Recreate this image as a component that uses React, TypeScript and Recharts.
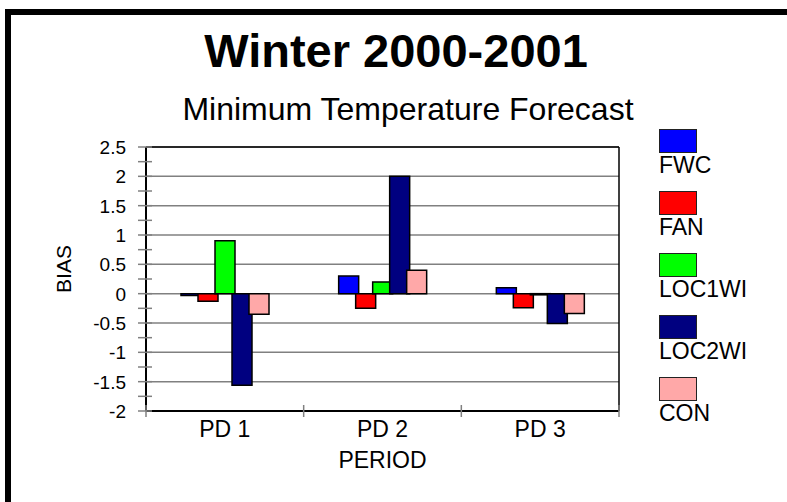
import React from 'react'
import { Bar, BarChart, CartesianGrid, Label, XAxis, YAxis } from 'recharts'

const periods = ['PD 1', 'PD 2', 'PD 3']
const fwc = [-0.03, 0.3, 0.1]
const fan = [-0.13, -0.25, -0.24]
const loc1wi = [0.9, 0.2, -0.02]
const loc2wi = [-1.56, 2.0, -0.51]
const con = [-0.35, 0.4, -0.34]

const majorTicks = [-2, -1.5, -1, -0.5, 0, 0.5, 1, 1.5, 2, 2.5]
const minorTicks = [-1.75, -1.25, -0.75, -0.25, 0.25, 0.75, 1.25, 1.75, 2.25]

const series = [
  { key: 'FWC', color: '#0000ff' },
  { key: 'FAN', color: '#ff0000' },
  { key: 'LOC1WI', color: '#00ff00' },
  { key: 'LOC2WI', color: '#000080' },
  { key: 'CON', color: '#ffa8a8' },
]

const data = periods.map((p, i) => ({
  period: p,
  FWC: fwc[i],
  FAN: fan[i],
  LOC1WI: loc1wi[i],
  LOC2WI: loc2wi[i],
  CON: con[i],
}))

const allTicks = [...majorTicks, ...minorTicks].sort((a, b) => a - b)

const font = '"Liberation Sans", Arial, sans-serif'
const W = 787
const H = 502
const plotLeft = 146
const plotRight = 619
const plotTop = 147
const plotBottom = 411
const band = (plotRight - plotLeft) / periods.length

function YTick({ x, y, payload }: any) {
  const major = majorTicks.includes(payload.value)
  return (
    <g>
      <line x1={x - 8} x2={x + 6} y1={y} y2={y} stroke="#808080" strokeWidth={1.5} />
      {major && (
        <text x={x - 20} y={y} dy={7} textAnchor="end" fontSize={19} fontFamily={font} fill="#000">
          {payload.value}
        </text>
      )}
    </g>
  )
}

function XTick({ x, y, payload, index }: any) {
  const last = index === periods.length - 1
  return (
    <g>
      <line x1={x - band / 2} x2={x - band / 2} y1={y - 6} y2={y + 6} stroke="#808080" strokeWidth={1.5} />
      {last && <line x1={x + band / 2} x2={x + band / 2} y1={y - 6} y2={y + 6} stroke="#808080" strokeWidth={1.5} />}
      <text x={x} y={y + 26} textAnchor="middle" fontSize={23} fontFamily={font} fill="#000">
        {payload.value}
      </text>
    </g>
  )
}

export default function App() {
  return (
    <div style={{ position: 'absolute', left: 0, top: 0, width: W, height: H, overflow: 'hidden', background: '#fff' }}>
      <div
        style={{
          position: 'absolute',
          left: 5,
          top: 9,
          width: 900,
          height: 700,
          border: '6px solid #000',
          boxSizing: 'border-box',
        }}
      />
      <div
        style={{
          position: 'absolute',
          left: 396 - 300,
          width: 600,
          top: 27,
          textAlign: 'center',
          fontFamily: font,
          fontWeight: 'bold',
          fontSize: 47,
          lineHeight: '47px',
        }}
      >
        Winter 2000-2001
      </div>
      <div
        style={{
          position: 'absolute',
          left: 408 - 300,
          width: 600,
          top: 93,
          textAlign: 'center',
          fontFamily: font,
          fontSize: 32,
          lineHeight: '32px',
        }}
      >
        Minimum Temperature Forecast
      </div>
      <div style={{ position: 'absolute', left: 659, top: 129, fontFamily: font }}>
        {series.map((s) => (
          <div key={s.key} style={{ height: 62 }}>
            <div style={{ width: 36, height: 22, background: s.color, border: '1.5px solid #222' }} />
            <div style={{ fontSize: 23, lineHeight: '23px', marginTop: 1, color: '#000' }}>{s.key}</div>
          </div>
        ))}
      </div>
      <div style={{ position: 'absolute', left: 0, top: 0 }}>
        <BarChart
          width={W}
          height={H}
          data={data}
          barSize={20}
          barGap={-3}
          margin={{ top: plotTop - 1, right: W - plotRight - 1, bottom: H - plotBottom - 60, left: plotLeft - 90 }}
        >
          <CartesianGrid vertical={false} horizontalValues={majorTicks} stroke="#808080" strokeWidth={1.5} />
          <XAxis
            dataKey="period"
            height={60}
            tickSize={0}
            tickMargin={0}
            tick={<XTick />}
            tickLine={false}
            axisLine={{ stroke: '#000', strokeWidth: 2 }}
          >
            <Label
              content={({ viewBox }: any) => (
                <text
                  x={viewBox.x + viewBox.width / 2}
                  y={viewBox.y + 57}
                  textAnchor="middle"
                  fontSize={23}
                  fontFamily={font}
                  fill="#000"
                >
                  PERIOD
                </text>
              )}
            />
          </XAxis>
          <XAxis xAxisId="top" dataKey="period" orientation="top" height={1} tick={false} tickLine={false} axisLine={{ stroke: '#000', strokeWidth: 1.5 }} />
          <YAxis
            type="number"
            domain={[-2, 2.5]}
            ticks={allTicks}
            interval={0}
            width={90}
            tickSize={0}
            tickMargin={0}
            tick={<YTick />}
            tickLine={false}
            axisLine={{ stroke: '#000', strokeWidth: 2 }}
          >
            <Label
              content={({ viewBox }: any) => {
                const cx = 63
                const cy = viewBox.y + viewBox.height / 2 - 10
                return (
                  <text
                    x={cx}
                    y={cy}
                    transform={`rotate(-90 ${cx} ${cy})`}
                    textAnchor="middle"
                    dominantBaseline="central"
                    fontSize={21}
                    fontFamily={font}
                    fill="#000"
                  >
                    BIAS
                  </text>
                )
              }}
            />
          </YAxis>
          <YAxis yAxisId="right" orientation="right" type="number" domain={[-2, 2.5]} width={1} tick={false} tickLine={false} axisLine={{ stroke: '#000', strokeWidth: 1.5 }} />
          {series.map((s) => (
            <Bar key={s.key} dataKey={s.key} fill={s.color} stroke="#000" strokeWidth={1.5} isAnimationActive={false} />
          ))}
        </BarChart>
      </div>
    </div>
  )
}
